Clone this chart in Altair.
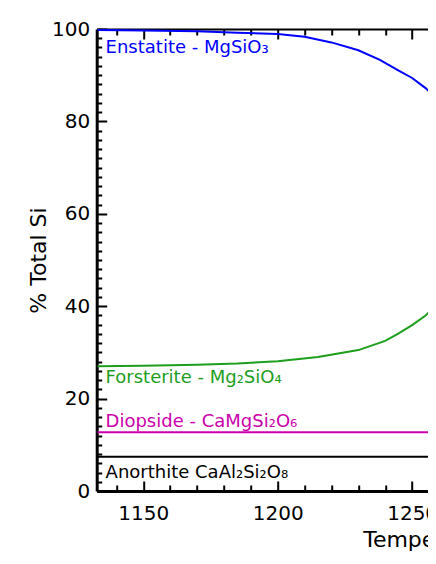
import altair as alt
import pandas as pd

# ---- data ----
en_T = [1133, 1150, 1170, 1185, 1200, 1210, 1220, 1230, 1238, 1245, 1250, 1255, 1259, 1265]
en_v = [99.8, 99.7, 99.5, 99.2, 98.9, 98.3, 97.1, 95.4, 93.3, 91.0, 89.4, 87.2, 85.0, 81.5]
fo_T = [1133, 1150, 1170, 1185, 1200, 1215, 1230, 1240, 1245, 1250, 1255, 1259, 1265]
fo_v = [27.0, 27.1, 27.3, 27.6, 28.1, 29.0, 30.5, 32.5, 34.1, 35.9, 38.0, 40.3, 44.0]
di_T = [1133, 1265]
di_v = [12.7, 12.7]
an_T = [1133, 1265]
an_v = [7.4, 7.4]

series_names = ["Enstatite", "Forsterite", "Diopside", "Anorthite"]
series_colors = ["#0000ff", "#1d9e1d", "#cc00aa", "#000000"]

label_texts = ["Enstatite - MgSiO₃", "Forsterite - Mg₂SiO₄", "Diopside - CaMgSi₂O₆", "Anorthite CaAl₂Si₂O₈"]
label_T = [1136, 1136, 1136, 1136]
label_v = [94.8, 23.4, 13.9, 2.8]

x_ticks_major = [1150, 1200, 1250]
x_ticks_all = list(range(1140, 1260, 10))
y_ticks_major = [0, 20, 40, 60, 80, 100]
y_ticks_all = list(range(0, 101, 2))

XDOM = [1132.7, 1255.9]
YDOM = [0, 100]
W = 331.3
H = 462
FONT = "DejaVu Sans"

rows = []
for name, Ts, vs in zip(series_names, [en_T, fo_T, di_T, an_T], [en_v, fo_v, di_v, an_v]):
    for t, v in zip(Ts, vs):
        rows.append({"series": name, "T": t, "v": v})
df = pd.DataFrame(rows)

lab = pd.DataFrame({"series": series_names, "text": label_texts, "T": label_T, "v": label_v})

color = alt.Color("series:N", scale=alt.Scale(domain=series_names, range=series_colors), legend=None)

xs = alt.Scale(domain=XDOM, nice=False, zero=False)
ys = alt.Scale(domain=YDOM, nice=False, zero=False)

x_axis_main = alt.Axis(
    orient="bottom", values=x_ticks_major, format="d", ticks=False,
    title="Temperature (°C)", titleFont=FONT, titleFontSize=22, titleFontWeight="normal",
    titleColor="black", titleAnchor="start", titleAlign="left", titleBaseline="alphabetic",
    titleX=266, titleY=55,
    labelFont=FONT, labelFontSize=20, labelColor="black", labelPadding=12,
    labelOverlap=False, labelBound=False, labelFlush=False,
    domainColor="black", domainWidth=3, grid=False)
y_axis_main = alt.Axis(
    orient="left", values=y_ticks_major, ticks=False,
    title="% Total Si", titleFont=FONT, titleFontSize=22, titleFontWeight="normal",
    titleColor="black", titleBaseline="middle", titleX=-58,
    labelFont=FONT, labelFontSize=20, labelColor="black", labelPadding=7,
    domainColor="black", domainWidth=3, grid=False)

tick_size = alt.condition("datum.value % 50 === 0", alt.value(10), alt.value(6))
ytick_size = alt.condition("datum.value % 20 === 0", alt.value(10), alt.value(5))

lines = alt.Chart(df).mark_line(strokeWidth=2, clip=True).encode(
    x=alt.X("T:Q", scale=xs, axis=x_axis_main),
    y=alt.Y("v:Q", scale=ys, axis=y_axis_main),
    color=color,
    detail="series:N",
)

labels = alt.Chart(lab).mark_text(align="left", baseline="alphabetic", font=FONT, fontSize=18).encode(
    x=alt.X("T:Q", scale=xs, axis=x_axis_main),
    y=alt.Y("v:Q", scale=ys, axis=y_axis_main),
    text="text:N",
    color=color,
)

main = alt.layer(lines, labels)

tickdf = pd.DataFrame({"T": [XDOM[0]], "v": [YDOM[0]]})

# inward ticks on bottom and left
ticks_a = alt.Chart(tickdf).mark_point(opacity=0).encode(
    x=alt.X("T:Q", scale=xs, axis=alt.Axis(
        orient="top", offset=-H, values=x_ticks_all, labels=False, title=None,
        tickSize=tick_size, tickWidth=2, tickColor="black", domain=False, grid=False)),
    y=alt.Y("v:Q", scale=ys, axis=alt.Axis(
        orient="right", offset=-W, values=y_ticks_all, labels=False, title=None,
        tickSize=ytick_size, tickWidth=2, tickColor="black", domain=False, grid=False)),
)

# inward ticks on top, with top border
ticks_b = alt.Chart(tickdf).mark_point(opacity=0).encode(
    x=alt.X("T:Q", scale=xs, axis=alt.Axis(
        orient="bottom", offset=-H, values=x_ticks_all, labels=False, title=None,
        tickSize=tick_size, tickWidth=2, tickColor="black", domainColor="black",
        domainWidth=2, grid=False)),
    y=alt.Y("v:Q", scale=ys, axis=None),
)

chart = alt.layer(main, ticks_a, ticks_b).resolve_scale(x="independent", y="independent").properties(
    width=W, height=H,
    autosize=alt.AutoSizeParams(type="none"),
    padding={"left": 88.7, "top": 21, "right": 0, "bottom": 65},
).configure_view(stroke=None).configure(background="white")

chart.save("out.html", embed_options={"renderer": "svg", "actions": False})
